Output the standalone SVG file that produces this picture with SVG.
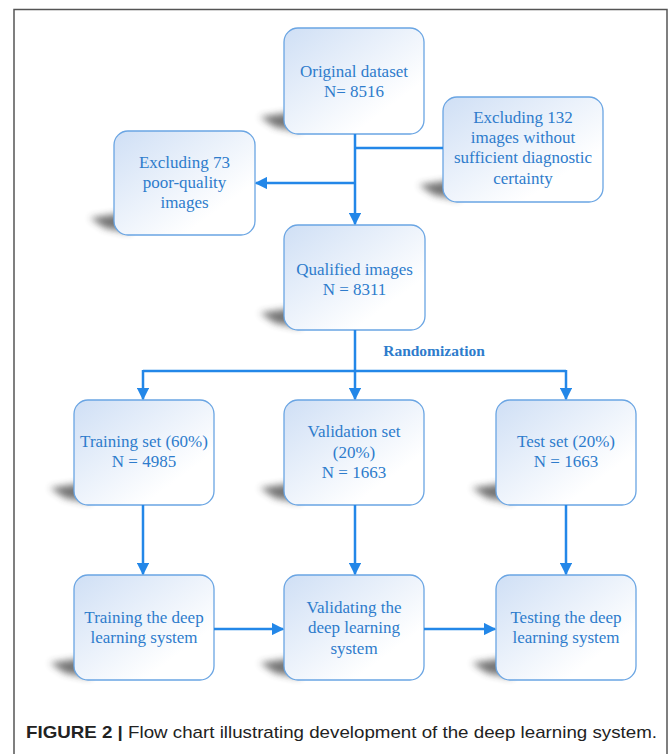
<svg xmlns="http://www.w3.org/2000/svg" width="669" height="754" viewBox="0 0 669 754">
<defs>
<linearGradient id="bg" x1="0" y1="0" x2="1" y2="1">
<stop offset="0" stop-color="#cfdff5"/>
<stop offset="0.75" stop-color="#ffffff"/>
<stop offset="1" stop-color="#ffffff"/>
</linearGradient>
<filter id="blur" x="-50%" y="-50%" width="200%" height="200%"><feGaussianBlur stdDeviation="3.5"/></filter>
<marker id="ah" viewBox="0 0 10 10" refX="9" refY="5" markerWidth="5" markerHeight="5" orient="auto" markerUnits="strokeWidth">
<path d="M0,0 L10,5 L0,10 z" fill="#2387e8"/>
</marker>
<style>
.box{fill:url(#bg);stroke:#6aa5e3;stroke-width:1.3}
.sh{fill:#3a3a3a;opacity:0.7;filter:url(#blur)}
.t{font-family:"Liberation Serif",serif;font-size:17px;fill:#2e7ccc;text-anchor:middle}
.c{fill:none;stroke:#2387e8;stroke-width:2.5}
</style>
</defs>
<rect x="0" y="0" width="669" height="754" fill="#ffffff"/>
<path d="M14,760 L14,9.5 L667,9.5 L667,760" fill="none" stroke="#555" stroke-width="1.5"/>

<g id="n1">
<path class="sh" d="M260,117 L300,111 L300,132 L275,127 Z"/>
<rect class="box" x="284" y="28" width="140" height="106" rx="14"/>
<text class="t" x="354" y="77">Original dataset</text>
<text class="t" x="354" y="97">N= 8516</text>
</g>
<g id="n2">
<path class="sh" d="M419,185 L459,179 L459,200 L434,195 Z"/>
<rect class="box" x="443" y="97" width="160" height="105" rx="14"/>
<text class="t" x="523" y="123">Excluding 132</text>
<text class="t" x="523" y="143">images without</text>
<text class="t" x="523" y="163">sufficient diagnostic</text>
<text class="t" x="523" y="184">certainty</text>
</g>
<g id="n3">
<path class="sh" d="M90,218 L130,212 L130,233 L105,228 Z"/>
<rect class="box" x="114" y="131" width="141" height="104" rx="14"/>
<text class="t" x="184.5" y="168">Excluding 73</text>
<text class="t" x="184.5" y="188">poor-quality</text>
<text class="t" x="184.5" y="208">images</text>
</g>
<g id="n4">
<path class="sh" d="M260,313 L300,307 L300,328 L275,323 Z"/>
<rect class="box" x="284" y="225" width="141" height="105" rx="14"/>
<text class="t" x="354.5" y="275">Qualified images</text>
<text class="t" x="354.5" y="295">N = 8311</text>
</g>
<g id="n5">
<path class="sh" d="M50,488 L90,482 L90,503 L65,498 Z"/>
<rect class="box" x="74" y="400" width="140" height="105" rx="14"/>
<text class="t" x="144" y="447">Training set (60%)</text>
<text class="t" x="144" y="467">N = 4985</text>
</g>
<g id="n6">
<path class="sh" d="M260,488 L300,482 L300,503 L275,498 Z"/>
<rect class="box" x="284" y="400" width="140" height="105" rx="14"/>
<text class="t" x="354" y="437">Validation set</text>
<text class="t" x="354" y="458">(20%)</text>
<text class="t" x="354" y="478">N = 1663</text>
</g>
<g id="n7">
<path class="sh" d="M472,488 L512,482 L512,503 L487,498 Z"/>
<rect class="box" x="496" y="400" width="140" height="105" rx="14"/>
<text class="t" x="566" y="447">Test set (20%)</text>
<text class="t" x="566" y="467">N = 1663</text>
</g>
<g id="n8">
<path class="sh" d="M50,663 L90,657 L90,678 L65,673 Z"/>
<rect class="box" x="74" y="575" width="140" height="105" rx="14"/>
<text class="t" x="144" y="623">Training the deep</text>
<text class="t" x="144" y="643">learning system</text>
</g>
<g id="n9">
<path class="sh" d="M260,663 L300,657 L300,678 L275,673 Z"/>
<rect class="box" x="284" y="575" width="140" height="105" rx="14"/>
<text class="t" x="354" y="613">Validating the</text>
<text class="t" x="354" y="633">deep learning</text>
<text class="t" x="354" y="654">system</text>
</g>
<g id="n10">
<path class="sh" d="M472,663 L512,657 L512,678 L487,673 Z"/>
<rect class="box" x="496" y="575" width="140" height="105" rx="14"/>
<text class="t" x="566" y="623">Testing the deep</text>
<text class="t" x="566" y="643">learning system</text>
</g>

<g id="connectors">
<path class="c" d="M355,134 L355,224" marker-end="url(#ah)"/>
<path class="c" d="M355,148 L443,148"/>
<path class="c" d="M355,183 L256,183" marker-end="url(#ah)"/>
<path class="c" d="M355,330 L355,371"/>
<path class="c" d="M143,371 L566,371"/>
<path class="c" d="M143,370 L143,399" marker-end="url(#ah)"/>
<path class="c" d="M355,370 L355,399" marker-end="url(#ah)"/>
<path class="c" d="M566,370 L566,399" marker-end="url(#ah)"/>
<path class="c" d="M143,505 L143,574" marker-end="url(#ah)"/>
<path class="c" d="M355,505 L355,574" marker-end="url(#ah)"/>
<path class="c" d="M566,505 L566,574" marker-end="url(#ah)"/>
<path class="c" d="M214,629 L283,629" marker-end="url(#ah)"/>
<path class="c" d="M424,629 L495,629" marker-end="url(#ah)"/>
<text x="434" y="356" font-family="Liberation Serif,serif" font-size="15.5" font-weight="bold" fill="#2e7ccc" text-anchor="middle">Randomization</text>
</g>

<text x="26" y="738" font-family="Liberation Sans,Arial,sans-serif" font-size="17" fill="#222" textLength="631" lengthAdjust="spacingAndGlyphs"><tspan font-weight="bold">FIGURE 2 |</tspan> Flow chart illustrating development of the deep learning system.</text>
</svg>
